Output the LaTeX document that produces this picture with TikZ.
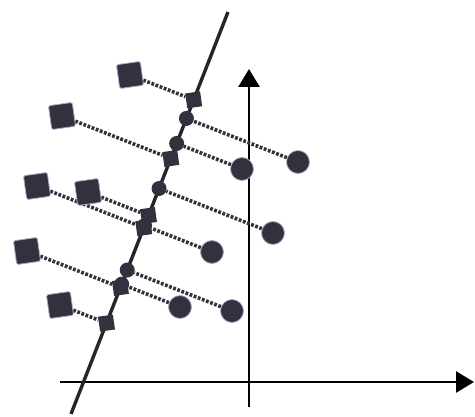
\documentclass[tikz,border=0pt]{standalone}
\usetikzlibrary{arrows.meta,calc,backgrounds}
\definecolor{dot}{RGB}{50,50,62}
\definecolor{halo}{RGB}{170,170,200}

\tikzset{
  bigsq/.style={rectangle, fill=dot, draw=halo, line width=0.8pt, minimum size=24pt, inner sep=0pt, rounded corners=1.5pt, rotate=8},
  smallsq/.style={rectangle, fill=dot, minimum size=15pt, inner sep=0pt, rotate=8},
  bigdot/.style={circle, fill=dot, draw=halo, line width=0.8pt, minimum size=23pt, inner sep=0pt},
  smalldot/.style={circle, fill=dot, minimum size=15pt, inner sep=0pt},
  proj/.style={draw=dot, line width=3.6pt, dash pattern=on 2.8pt off 1.6pt},
  axis/.style={line width=2.8pt, -{Triangle[length=18pt,width=21pt]}},
}

\begin{document}
\begin{tikzpicture}[x=1pt,y=-1pt]
\useasboundingbox (0,0) rectangle (475,417);

\coordinate (top) at (228,12);
\coordinate (bot) at (71,414);
\coordinate (xs) at (60,382);
\coordinate (xe) at (474,382);
\coordinate (ys) at (249,407);
\coordinate (ye) at (249,69);

% points on the left
\node[bigsq] (s1) at (130,75) {};
\node[bigsq] (s2) at (62,116) {};
\node[bigsq] (s3) at (37,186) {};
\node[bigsq] (s4) at (88,192) {};
\node[bigsq] (s5) at (27,251) {};
\node[bigsq] (s6) at (60,305) {};

% points on the right
\node[bigdot] (c1) at (298,162) {};
\node[bigdot] (c2) at (242,169) {};
\node[bigdot] (c3) at (273,233) {};
\node[bigdot] (c4) at (212,252) {};
\node[bigdot] (c5) at (180,307) {};
\node[bigdot] (c6) at (232,311) {};

% projections onto the line
\node[smallsq] (s1p) at ($(top)!(s1)!(bot)$) {};
\node[smallsq] (s2p) at ($(top)!(s2)!(bot)$) {};
\node[smallsq] (s3p) at ($(top)!(s3)!(bot)$) {};
\node[smallsq] (s4p) at ($(top)!(s4)!(bot)$) {};
\node[smallsq] (s5p) at ($(top)!(s5)!(bot)$) {};
\node[smallsq] (s6p) at ($(top)!(s6)!(bot)$) {};
\node[smalldot] (c1p) at ($(top)!(c1)!(bot)$) {};
\node[smalldot] (c2p) at ($(top)!(c2)!(bot)$) {};
\node[smalldot] (c3p) at ($(top)!(c3)!(bot)$) {};
\node[smalldot] (c4p) at ($(top)!(c4)!(bot)$) {};
\node[smalldot] (c5p) at ($(top)!(c5)!(bot)$) {};
\node[smalldot] (c6p) at ($(top)!(c6)!(bot)$) {};

\begin{scope}[on background layer]
  \draw[axis] (xs) -- (xe);
  \draw[axis] (ys) -- (ye);
  \draw[proj] (s1) -- (s1p);
  \draw[proj] (s2) -- (s2p);
  \draw[proj] (s3) -- (s3p);
  \draw[proj] (s4) -- (s4p);
  \draw[proj] (s5) -- (s5p);
  \draw[proj] (s6) -- (s6p);
  \draw[proj] (c1) -- (c1p);
  \draw[proj] (c2) -- (c2p);
  \draw[proj] (c3) -- (c3p);
  \draw[proj] (c4) -- (c4p);
  \draw[proj] (c5) -- (c5p);
  \draw[proj] (c6) -- (c6p);
  \draw[line width=3.4pt, black!85] (top) -- (bot);
\end{scope}

\end{tikzpicture}
\end{document}
